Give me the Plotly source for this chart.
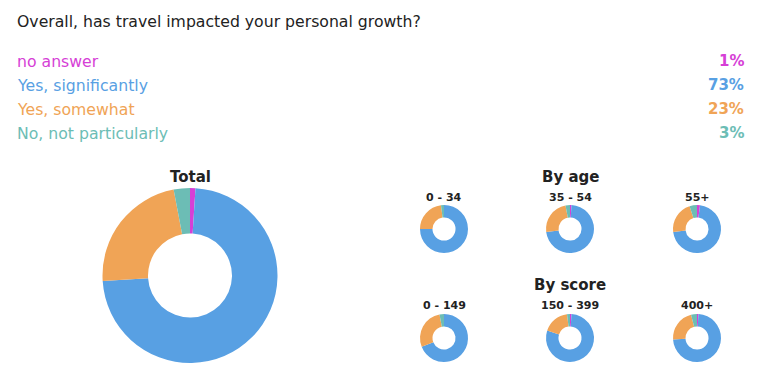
import plotly.graph_objects as go

W, H = 763, 378
OFF = 8  # page body margin offset

question = "Overall, has travel impacted your personal growth?"
categories = ["no answer", "Yes, significantly", "Yes, somewhat", "No, not particularly"]
colors = ["#d63fd6", "#58a0e3", "#f0a456", "#6cbdb5"]
total_values = [1, 73, 23, 3]
total_labels = ["1%", "73%", "23%", "3%"]

age_groups = ["0 - 34", "35 - 54", "55+"]
age_values = [
    [0, 75, 23, 2],
    [1, 72, 24, 3],
    [2, 71, 22, 5],
]
score_groups = ["0 - 149", "150 - 399", "400+"]
score_values = [
    [0, 69, 28, 3],
    [1, 79, 18, 2],
    [1, 73, 22, 4],
]

FONT = "DejaVu Sans"
fig = go.Figure()


def dom(cx, cy, r):
    cx -= OFF
    cy -= OFF
    return dict(x=[(cx - r) / W, (cx + r) / W], y=[1 - (cy + r) / H, 1 - (cy - r) / H])


def add_pie(vals, cx, cy, r, hole):
    fig.add_trace(go.Pie(
        labels=categories, values=vals, sort=False, direction="clockwise", rotation=0,
        hole=hole, marker=dict(colors=colors, line=dict(width=0)),
        textinfo="none", hoverinfo="label+percent", showlegend=False,
        domain=dom(cx, cy, r),
    ))


add_pie(total_values, 190, 275.5, 87.5, 0.48)
xs = [444, 570, 697]
for i, v in enumerate(age_values):
    add_pie(v, xs[i], 229, 24, 0.48)
for i, v in enumerate(score_values):
    add_pie(v, xs[i], 338, 24, 0.48)

ann = []


def txt(t, x, y, size, color="#222", bold=False, xanchor="center"):
    x -= OFF
    y -= OFF
    ann.append(dict(text=f"<b>{t}</b>" if bold else t, x=x / W, y=1 - y / H, xref="paper", yref="paper",
                    xanchor=xanchor, yanchor="middle", showarrow=False,
                    font=dict(family=FONT, size=size, color=color)))


txt(question, 15, 22, 15.7, "#222", xanchor="left")
rows = [61, 85, 109, 133]
for i, c in enumerate(categories):
    txt(c, 15, rows[i], 15.7, colors[i], xanchor="left")
    txt(total_labels[i], 746, rows[i], 15, colors[i], bold=True, xanchor="right")

txt("Total", 190, 177, 15, bold=True)
txt("By age", 570, 177, 15, bold=True)
txt("By score", 570, 285, 15, bold=True)
for i, g in enumerate(age_groups):
    txt(g, xs[i], 197, 11, bold=True)
for i, g in enumerate(score_groups):
    txt(g, xs[i], 305, 11, bold=True)

fig.update_layout(width=W, height=H, margin=dict(l=0, r=0, t=0, b=0),
                  paper_bgcolor="white", plot_bgcolor="white", annotations=ann)
fig.write_html("out.html")
